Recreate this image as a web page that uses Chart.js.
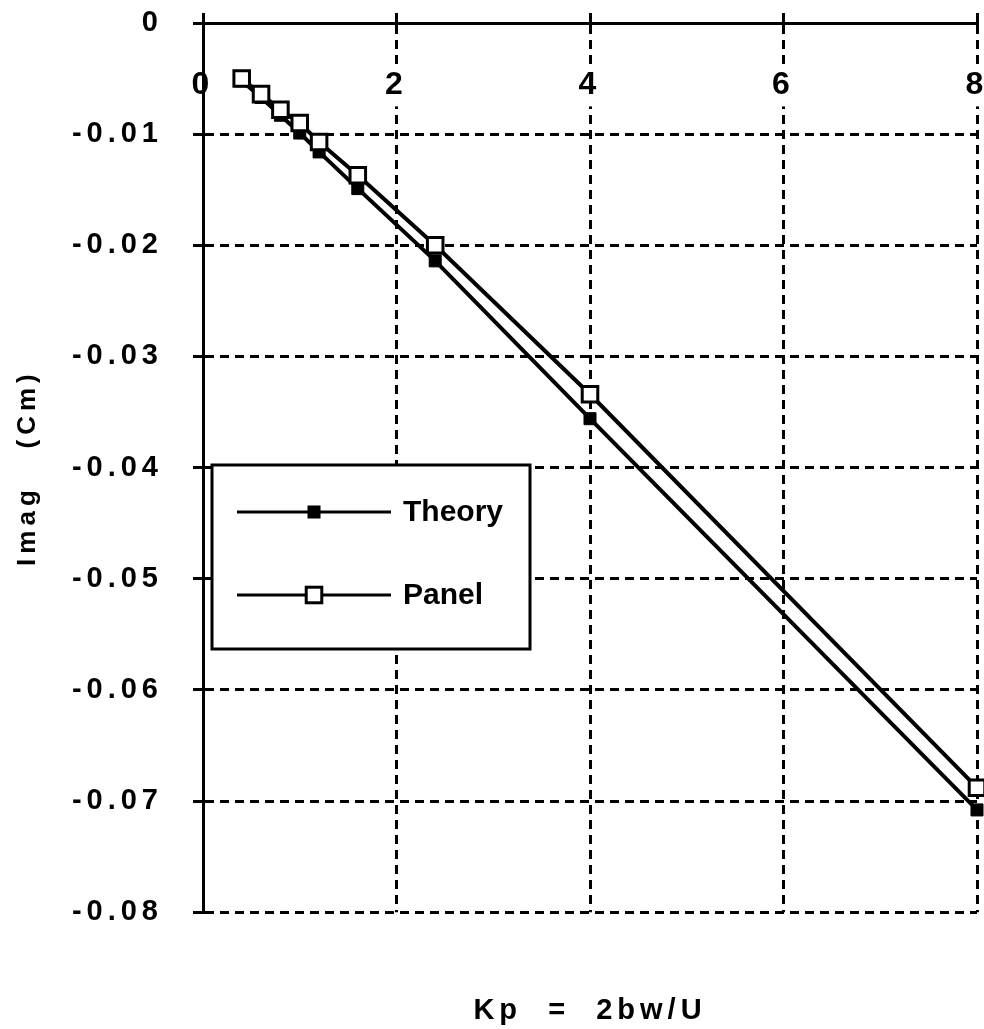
<!DOCTYPE html>
<html>
<head>
<meta charset="utf-8">
<script src="https://cdn.jsdelivr.net/npm/chart.js@4"></script>
<style>
  html, body { margin: 0; padding: 0; background: #fff; }
  #wrap { width: 984px; height: 1029px; }
</style>
</head>
<body>
<div id="wrap"><canvas id="myChart"></canvas></div>
<script>
const kp = [0.4, 0.6, 0.8, 1.0, 1.2, 1.6, 2.4, 4.0, 8.0];
const theory = [-0.0052, -0.0067, -0.0083, -0.0099, -0.0116, -0.0149, -0.0214, -0.0356, -0.0708];
const panel = [-0.0050, -0.0064, -0.0078, -0.0090, -0.0107, -0.0137, -0.0200, -0.0334, -0.0688];
const xTicks = [0, 2, 4, 6, 8];
const yTicks = [0, -0.01, -0.02, -0.03, -0.04, -0.05, -0.06, -0.07, -0.08];

const ctx = document.getElementById('myChart');

Chart.defaults.color = "black";
Chart.defaults.font.family = "'Liberation Sans', Arial, sans-serif";
Chart.defaults.font.weight = "bold";

const toPts = ys => kp.map((x, i) => ({ x: x, y: ys[i] }));

// spaced lettering like the original
const spacing = {
  id: 'spacing',
  beforeDraw(chart) { chart.ctx.letterSpacing = '5px'; }
};

// boxed legend sitting inside the plot
const boxLegend = {
  id: 'boxLegend',
  afterDraw(chart) {
    const c = chart.ctx;
    const ca = chart.chartArea;
    const x0 = ca.left + 9, y0 = ca.top + 442, w = 318, h = 184;
    c.save();
    c.letterSpacing = '0px';
    c.fillStyle = 'white';
    c.fillRect(x0, y0, w, h);
    c.lineWidth = 3;
    c.strokeStyle = 'black';
    c.strokeRect(x0, y0, w, h);
    const rows = [chart.data.datasets[0], chart.data.datasets[1]];
    rows.forEach((ds, i) => {
      const y = y0 + 47 + i * 83;
      c.lineWidth = 3;
      c.beginPath();
      c.moveTo(x0 + 25, y);
      c.lineTo(x0 + 179, y);
      c.stroke();
      const s = ds.pointRadius * Math.SQRT1_2;
      c.fillStyle = ds.pointBackgroundColor;
      c.fillRect(x0 + 102 - s, y - s, 2 * s, 2 * s);
      c.lineWidth = ds.pointBorderWidth;
      c.strokeRect(x0 + 102 - s, y - s, 2 * s, 2 * s);
      c.fillStyle = 'black';
      c.font = "bold 30px 'Liberation Sans', Arial, sans-serif";
      c.textBaseline = 'middle';
      c.fillText(ds.label, x0 + 191, y + 1);
    });
    c.restore();
  }
};

new Chart(ctx, {
  type: 'line',
  data: {
    datasets: [{
      label: 'Theory',
      data: toPts(theory),
      borderColor: 'black',
      borderWidth: 4,
      pointStyle: 'rect',
      pointRadius: 8.5,
      pointBackgroundColor: 'black',
      pointBorderColor: 'black',
      pointBorderWidth: 1,
      clip: false,
      order: 1
    }, {
      label: 'Panel',
      data: toPts(panel),
      borderColor: 'black',
      borderWidth: 4,
      pointStyle: 'rect',
      pointRadius: 11,
      pointBackgroundColor: 'white',
      pointBorderColor: 'black',
      pointBorderWidth: 3,
      clip: false,
      order: 0
    }]
  },
  options: {
    responsive: true,
    maintainAspectRatio: false,
    animation: false,
    layout: { autoPadding: false, padding: { top: 0, left: 0, right: 7, bottom: 0 } },
    scales: {
      x: {
        type: 'linear',
        position: 'top',
        min: 0,
        max: 8,
        afterFit: s => { s.height = 23; s.paddingLeft = 0; s.paddingRight = 0; },
        afterBuildTicks: s => { s.ticks = xTicks.map(v => ({ value: v })); },
        ticks: {
          mirror: true,
          padding: 43,
          maxRotation: 0,
          font: { size: 32, family: "'Liberation Sans Narrow', 'Liberation Sans', Arial, sans-serif" },
          showLabelBackdrop: true,
          backdropColor: 'white',
          backdropPadding: 2
        },
        grid: { color: 'black', lineWidth: 3, tickLength: 10, tickWidth: 3, tickColor: 'black' },
        border: { color: 'black', width: 3, dash: [9, 6] }
      },
      y: {
        min: -0.08,
        max: 0,
        afterFit: s => { s.width = 203; s.paddingTop = 0; s.paddingBottom = 0; },
        afterBuildTicks: s => { s.ticks = yTicks.map(v => ({ value: v })); },
        ticks: {
          padding: 30,
          font: { size: 29 },
          callback: v => v === 0 ? '0' : v.toFixed(2)
        },
        grid: { color: 'black', lineWidth: 3, tickLength: 10, tickWidth: 3, tickColor: 'black' },
        border: { color: 'black', width: 3, dash: [9, 6] },
        title: {
          display: true,
          text: 'Imag   (Cm)',
          font: { size: 26 },
          padding: { top: 12, bottom: 0 }
        }
      }
    },
    plugins: {
      legend: { display: false },
      tooltip: { enabled: false },
      title: {
        display: true,
        position: 'bottom',
        fullSize: false,
        text: 'Kp  =  2bw/U',
        font: { size: 29 },
        padding: { top: 81, bottom: 1 }
      }
    }
  },
  plugins: [spacing, boxLegend]
});
</script>
</body>
</html>
